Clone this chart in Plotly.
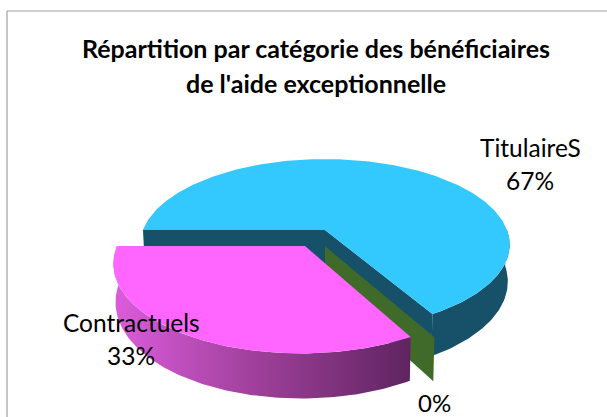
import numpy as np
import plotly.graph_objects as go

categories = ["TitulaireS", "", "Contractuels"]
values = [66.6, 0.2, 33.2]
title_lines = ["Répartition par catégorie des bénéficiaires", "de l'aide exceptionnelle"]

# Drawing of the tilted disc (projection onto a 607x417 canvas)
CX, CY, RX, RY, K, DEPTH, SHRINK = 325, 230, 182, 83, 0.17, 36, 0.99
START = -90.0
OFFSETS = [(0.0, 0.0), (0.0, 0.19), (-0.1065, 0.187)]
TOP = ["#33c9ff", "#406a29", "#ff66ff"]
SIDE = ["#165169", "#406a29", "#c050c0"]


def proj(u, v, low=False):
    u, v = np.asarray(u, float), np.asarray(v, float)
    w = 1 - K * v
    x = RX * u / w
    y = RY * v / w
    if low:
        x = x * SHRINK
        y = y + DEPTH / w
    return CX + x, CY + y


def rim(a0, a1, off):
    t = np.radians(np.linspace(a0, a1, max(int(abs(a1 - a0)), 2) + 1))
    return np.sin(t) + off[0], -np.cos(t) + off[1]


def poly(x, y, color, **kw):
    return go.Scatter(x=np.r_[x, x[0]], y=np.r_[y, y[0]], mode="lines", fill="toself",
                      fillcolor=color, line=dict(width=0, color=color),
                      hoverinfo="skip", showlegend=False, **kw)


def top_face(a0, a1, off):
    u, v = rim(a0, a1, off)
    return proj(np.r_[off[0], u], np.r_[off[1], v])


def radial_wall(a, off):
    u, v = rim(a, a, off)
    uu, vv = [off[0], u[0]], [off[1], v[0]]
    x0, y0 = proj(uu, vv)
    x1, y1 = proj(uu, vv, True)
    return np.r_[x0, x1[::-1]], np.r_[y0, y1[::-1]]


def outer_wall(a0, a1, off):
    u, v = rim(a0, a1, off)
    x0, y0 = proj(u, v)
    x1, y1 = proj(u, v, True)
    return np.r_[x0, x1[::-1]], np.r_[y0, y1[::-1]]


edges = START + np.r_[0, np.cumsum(values)] * 3.6
fig = go.Figure()

# TitulaireS
a0, a1 = edges[0], edges[1]
off = OFFSETS[0]
fig.add_trace(poly(*radial_wall(a0, off), SIDE[0]))
fig.add_trace(poly(*radial_wall(a1, off), SIDE[0]))
fig.add_trace(poly(*outer_wall(90, a1, off), SIDE[0]))
fig.add_trace(poly(*top_face(a0, a1, off), TOP[0]))

# Sliver for the middle value: only its radial wall shows
fig.add_trace(poly(*radial_wall(edges[2], OFFSETS[1]), TOP[1]))

# Contractuels
a0, a1 = edges[2], edges[3]
off = OFFSETS[2]
wx, wy = outer_wall(a0, a1, off)
fig.add_trace(go.Scatter(
    x=np.r_[wx, wx[0]], y=np.r_[wy, wy[0]], mode="lines", fill="toself",
    fillgradient=dict(type="horizontal", start=wx.min(), stop=wx.max(),
                      colorscale=[[0, "#dc5cdc"], [0.5, "#9c3f98"], [1, "#5f2460"]]),
    line=dict(width=0), hoverinfo="skip", showlegend=False))
fig.add_trace(poly(*top_face(a0, a1, off), TOP[2]))


def note(x, y, text, size=24):
    fig.add_annotation(x=x, y=y, xref="x", yref="y", text=text, showarrow=False,
                       font=dict(family="Lato", size=size, color="#000000"),
                       xanchor="center", yanchor="middle")


pct = [f"{v:.0f}%" for v in values]
note(530, 147, categories[0], 24.5)
note(530, 180, pct[0], 24.5)
note(131, 322, categories[2], 24.5)
note(131, 355, pct[2], 24.5)
note(434, 402, pct[1], 24)
note(316, 48, f"<b>{title_lines[0]}</b>", 25)
note(316, 83, f"<b>{title_lines[1]}</b>", 25)

fig.update_layout(
    width=607, height=417, margin=dict(l=0, r=0, t=0, b=0),
    paper_bgcolor="white", plot_bgcolor="white", showlegend=False,
    xaxis=dict(range=[0, 607], visible=False, fixedrange=True),
    yaxis=dict(range=[417, 0], visible=False, fixedrange=True),
    shapes=[
        dict(type="line", x0=7, x1=7, y0=11, y1=417, xref="x", yref="y", line=dict(color="#a0a0a0", width=1.2)),
        dict(type="line", x0=7, x1=607, y0=11, y1=11, xref="x", yref="y", line=dict(color="#a0a0a0", width=1.2)),
    ],
)
fig.write_html(
    "out.html",
    config={"displayModeBar": False},
    post_script=("document.body.style.margin='0';document.body.style.overflow='hidden';"
                 "var s=document.createElement('style');"
                 "s.textContent='text{font-variant-ligatures:none}';"
                 "document.head.appendChild(s);"),
)
